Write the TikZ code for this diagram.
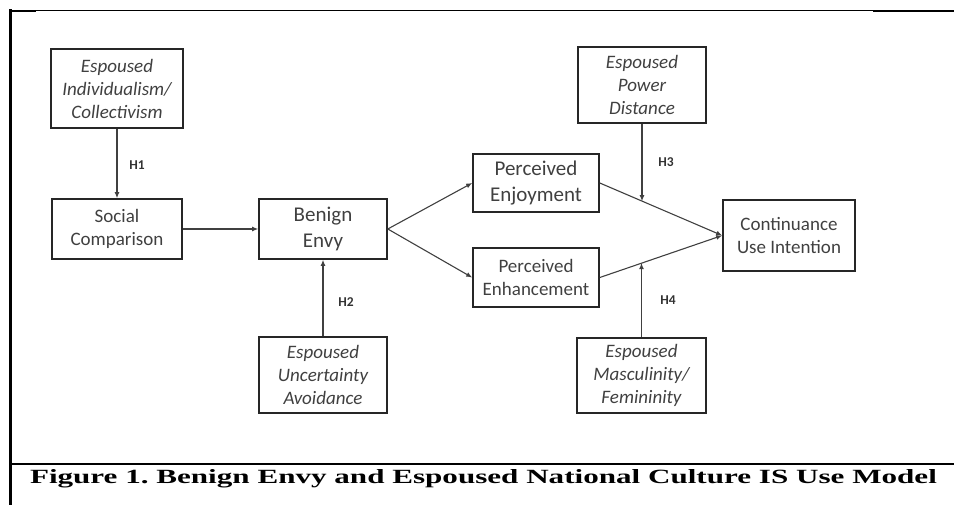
\documentclass[tikz,border=0pt]{standalone}
\usepackage{fontspec}
\newfontfamily\calfont{Carlito}
\newfontfamily\capfont{Liberation Serif}
\usetikzlibrary{arrows.meta,calc}
\begin{document}
\begin{tikzpicture}[x=1pt,y=-1pt,
  box/.style={draw=black!85, line width=1.6pt, rectangle, inner sep=0pt, align=center, text=black!75},
  big/.style={font=\calfont\fontsize{21}{26}\selectfont},
  reg/.style={font=\calfont\fontsize{19}{23}\selectfont},
  cult/.style={font=\calfont\fontsize{19}{23}\selectfont\itshape},
  link/.style={draw=black!75, line width=1.1pt, -{Latex[length=6pt,width=5pt]}},
  hyp/.style={font=\calfont\fontsize{13.5}{15}\selectfont\bfseries, text=black!80, inner sep=0pt}]
\useasboundingbox (0,0) rectangle (954,505);
% frame
\draw[line width=1pt] (10,10.5) -- (954,10.5);
\draw[line width=2pt] (10,11) -- (36,11);
\draw[line width=2pt] (873,11) -- (954,11);
\draw[line width=3pt] (10,9.5) -- (10,505);
\draw[line width=2pt] (10,463.5) -- (954,463.5);
% boxes
\node[box, cult, minimum width=132pt, minimum height=79pt] (ind) at (117,88.5) {Espoused\\Individualism/\\Collectivism};
\node[box, reg, minimum width=130pt, minimum height=60pt] (soc) at (117,229) {Social\\Comparison};
\node[box, big, minimum width=128pt, minimum height=60pt] (env) at (323,229) {Benign\\Envy};
\node[box, big, minimum width=126pt, minimum height=58pt] (enj) at (536,183) {Perceived\\Enjoyment};
\node[box, reg, minimum width=126pt, minimum height=59pt] (enh) at (536,277.5) {Perceived\\Enhancement};
\node[box, cult, minimum width=128pt, minimum height=76pt] (pow) at (642,85) {Espoused\\Power\\Distance};
\node[box, reg, minimum width=132pt, minimum height=71pt] (con) at (789,235.5) {Continuance\\Use Intention};
\node[box, cult, minimum width=128pt, minimum height=76pt] (unc) at (323,375) {Espoused\\Uncertainty\\Avoidance};
\node[box, cult, minimum width=129pt, minimum height=75pt] (mas) at (641.5,375.5) {Espoused\\Masculinity/\\Femininity};
% connectors
\draw[link] (ind.south) -- (soc.north);
\draw[link] (soc.east) -- (env.west);
\draw[link] (unc.north) -- (env.south);
\draw[link] (env.east) -- (enj.west);
\draw[link] (env.east) -- (enh.west);
\draw[link] (enj.east) -- coordinate[pos=0.347] (h3pt) (con.west);
\draw[link] (enh.east) -- coordinate[pos=0.343] (h4pt) (con.west);
\draw[link] (pow.south) -- (pow.south |- h3pt);
\draw[link] (mas.north) -- (mas.north |- h4pt);
% hypothesis labels
\node[hyp] (h1) at (137,165) {H1};
\node[hyp] (h2) at (346,302) {H2};
\node[hyp] (h3) at (666,162) {H3};
\node[hyp] (h4) at (668,300) {H4};
% caption
\node[anchor=base, inner sep=0pt] (cap) at (483.5,483) {\resizebox{907pt}{14pt}{\frenchspacing\capfont\bfseries Figure 1. Benign Envy and Espoused National Culture IS Use Model}};
\end{tikzpicture}
\end{document}
